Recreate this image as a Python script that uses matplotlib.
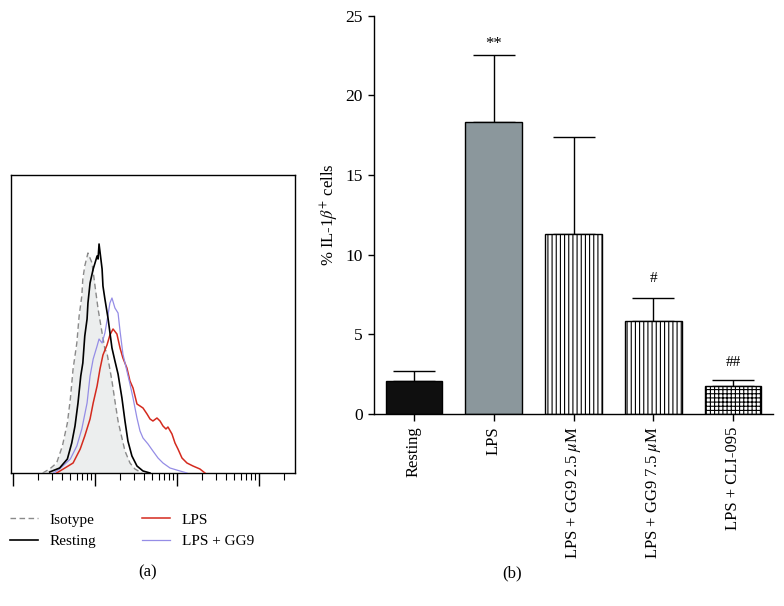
import matplotlib
matplotlib.use("Agg")
import matplotlib.pyplot as plt
from matplotlib.ticker import NullFormatter

plt.rcParams["font.family"] = ["Liberation Serif", "DejaVu Serif"]
plt.rcParams["mathtext.fontset"] = "stix"
plt.rcParams["hatch.linewidth"] = 0.8

# --- (a) flow histograms: fluorescence intensity vs count ---
iso_x = [23, 28, 34, 40, 46, 50, 54, 60, 64, 69, 71, 75, 82, 92, 100, 109, 122, 132,
         140, 161, 175, 191, 213, 232, 267, 307, 374]
iso_y = [0, 4, 10, 27, 50, 74, 104, 130, 157, 177, 194, 207, 220, 210, 187, 164, 140, 124,
         120, 92, 72, 52, 35, 22, 10, 4, 0]

rest_x = [28, 37, 46, 52, 57, 62, 67, 71, 75, 80, 82, 87, 95, 100, 106, 109, 112, 122, 125,
          132, 144, 161, 175, 191, 213, 232, 252, 282, 325, 385, 469]
rest_y = [1, 5, 14, 30, 47, 70, 97, 110, 137, 154, 170, 190, 204, 210, 217, 214, 229, 204, 187,
          174, 155, 125, 112, 99, 75, 52, 32, 17, 7, 2, 0]

gg9_x = [31, 37, 50, 60, 69, 80, 87, 95, 106, 112, 122, 132, 144, 152, 161, 175, 191, 202,
         219, 245, 267, 291, 325, 354, 385, 443, 509, 587, 675, 822, 1088, 1324]
gg9_y = [0, 4, 14, 27, 44, 70, 97, 114, 127, 134, 130, 140, 158, 170, 175, 165, 160, 142,
         119, 102, 89, 75, 55, 42, 35, 29, 22, 15, 10, 5, 2, 0]

lps_x = [34, 41, 54, 66, 75, 87, 95, 106, 115, 125, 140, 152, 166, 185, 202, 219, 245, 267,
         291, 325, 354, 385, 431, 469, 509, 570, 621, 675, 734, 776, 869, 946, 1028, 1151,
         1324, 1567, 1906, 2194]
lps_y = [0, 4, 10, 24, 37, 54, 70, 87, 104, 118, 128, 138, 144, 139, 125, 115, 105, 92,
         85, 69, 67, 65, 59, 54, 52, 55, 52, 47, 44, 46, 39, 30, 24, 15, 10, 7, 4, 0]

# --- (b) % IL-1b+ cells ---
groups = ["Resting", "LPS", r"LPS + GG9 2.5 $\mu$M", r"LPS + GG9 7.5 $\mu$M", "LPS + CLI-095"]
means = [2.1, 18.3, 11.28, 5.84, 1.76]
sems = [0.6, 4.25, 6.09, 1.44, 0.36]
marks = ["", "**", "", "#", "##"]

fig = plt.figure(figsize=(7.84, 6.06), dpi=100)

ax1 = fig.add_axes([11 / 784, 1 - 473 / 606, 284 / 784, 298 / 606])
ax1.fill_between(iso_x, iso_y, color="#eceeee", lw=0, zorder=1)
ax1.plot(iso_x, iso_y, color="#8a8a8a", ls=(0, (4, 2.5)), lw=1.0, label="Isotype", zorder=3)
ax1.plot(rest_x, rest_y, color="black", lw=1.2, label="Resting", zorder=4)
ax1.plot(lps_x, lps_y, color="#d42a1e", lw=1.1, label="LPS", zorder=3)
ax1.plot(gg9_x, gg9_y, color="#958de6", lw=0.9, label="LPS + GG9", zorder=3)
ax1.set_xscale("log")
ax1.set_xlim(10 ** 0.975, 10 ** 4.44)
ax1.set_ylim(0, 298)
ax1.set_yticks([])
decades = [10, 100, 1000, 10000]
ax1.set_xticks(decades)
ax1.set_xticks([d * k for d in decades for k in range(2, 10) if d * k < 10 ** 4.44], minor=True)
ax1.xaxis.set_major_formatter(NullFormatter())
ax1.xaxis.set_minor_formatter(NullFormatter())
ax1.tick_params(axis="x", which="major", direction="out", length=9, width=1)
ax1.tick_params(axis="x", which="minor", direction="out", length=5, width=0.8)
for s in ax1.spines.values():
    s.set_linewidth(1.0)
fig.legend(*ax1.get_legend_handles_labels(), loc="upper left",
           bbox_to_anchor=(10 / 784, 1 - 513 / 606), ncol=2, frameon=False,
           fontsize=11, handlelength=1.8, handletextpad=0.8, columnspacing=3.0,
           labelspacing=0.5, borderpad=0, borderaxespad=0)

ax2 = fig.add_axes([374 / 784, 1 - 414 / 606, 399 / 784, 398.3 / 606])
x = range(len(groups))
fills = ["#0f0f0f", "#8b979c", "white", "white", "white"]
hatches = [None, None, "||||", "||||", "++++"]
ax2.errorbar(x, means, yerr=[[0] * len(sems), sems], fmt="none", ecolor="black",
             elinewidth=1.0, capsize=15, capthick=1.0, zorder=1)
for i in x:
    ax2.bar(i, means[i], width=0.71, color=fills[i], edgecolor="black", lw=1.0,
            hatch=hatches[i], zorder=2)
offs = [0, 8, 0, 14, 13]
sizes = [11, 12, 11, 11, 11]
for i in x:
    if marks[i]:
        ax2.annotate(marks[i], (i, means[i] + sems[i]), xytext=(0, offs[i]),
                     textcoords="offset points", ha="center", va="center", fontsize=sizes[i])
ax2.set_xlim(-0.5, 4.5)
ax2.set_ylim(0, 25)
ax2.set_yticks([0, 5, 10, 15, 20, 25])
ax2.set_xticks(list(x))
ax2.set_xticklabels(groups, rotation=90, fontsize=12)
ax2.tick_params(axis="y", labelsize=12.5, length=4, width=1, pad=4)
ax2.tick_params(axis="x", length=5, width=1, pad=4)
ax2.spines["top"].set_visible(False)
ax2.spines["right"].set_visible(False)
ax2.spines["left"].set_linewidth(1.0)
ax2.spines["bottom"].set_linewidth(1.0)
ax2.set_ylabel(r"% IL-1$\beta^{+}$ cells", fontsize=12, labelpad=3)

fig.text(148 / 784, 1 - 572 / 606, "(a)", ha="center", va="center", fontsize=12)
fig.text(512 / 784, 1 - 573 / 606, "(b)", ha="center", va="center", fontsize=12)

fig.savefig("out.png", dpi=100)
